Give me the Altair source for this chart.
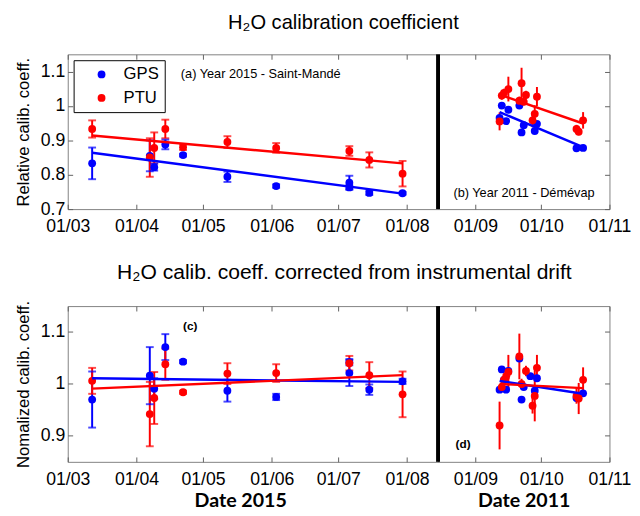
import altair as alt
import pandas as pd

series_names = ["GPS", "PTU"]
series_colors = ["#0000ff", "#ff0000"]

# ---------- (a) relative calibration coefficient, 2015 Saint-Mandé ----------
a_gps_dates = ["2015-03-12", "2015-04-07", "2015-04-09", "2015-04-14", "2015-04-22", "2015-05-12",
               "2015-06-03", "2015-07-06", "2015-07-06", "2015-07-15", "2015-07-30"]
a_gps_vals = [0.833, 0.855, 0.822, 0.888, 0.857, 0.794, 0.767, 0.777, 0.763, 0.747, 0.746]
a_gps_err = [0.046, 0.045, 0.010, 0.014, 0.004, 0.015, 0.005, 0.020, 0.006, 0.006, 0.004]
a_ptu_dates = ["2015-03-12", "2015-04-07", "2015-04-09", "2015-04-14", "2015-04-22", "2015-05-12",
               "2015-06-03", "2015-07-06", "2015-07-15", "2015-07-30"]
a_ptu_vals = [0.933, 0.850, 0.878, 0.933, 0.880, 0.895, 0.878, 0.869, 0.843, 0.803]
a_ptu_err = [0.025, 0.056, 0.045, 0.027, 0.008, 0.017, 0.014, 0.014, 0.022, 0.037]
a_fit_dates = ["2015-03-12", "2015-07-30"]
a_fit_gps = [0.864, 0.745]
a_fit_ptu = [0.914, 0.833]

# ---------- (b) relative calibration coefficient, 2011 Démévap ----------
b_gps_dates = ["2011-09-12", "2011-09-13", "2011-09-15", "2011-09-16", "2011-09-21", "2011-09-22",
               "2011-09-23", "2011-09-28", "2011-09-29", "2011-10-17", "2011-10-20"]
b_gps_vals = [0.965, 1.001, 0.956, 0.989, 1.001, 0.923, 0.944, 0.927, 0.948, 0.877, 0.878]
b_gps_err = [0, 0, 0, 0, 0, 0, 0, 0, 0, 0, 0]
b_ptu_dates = ["2011-09-12", "2011-09-13", "2011-09-14", "2011-09-16", "2011-09-21", "2011-09-22",
               "2011-09-23", "2011-09-24", "2011-09-27", "2011-09-28", "2011-09-29", "2011-10-17",
               "2011-10-18", "2011-10-20"]
b_ptu_vals = [0.955, 1.030, 1.038, 1.049, 1.015, 1.066, 1.012, 1.032, 0.958, 0.977, 1.027, 0.933, 0.925, 0.958]
b_ptu_err = [0.026, 0.012, 0.012, 0.036, 0.012, 0.045, 0.010, 0.012, 0.020, 0.025, 0.028, 0.012, 0.010, 0.024]
b_fit_dates = ["2011-09-12", "2011-10-20"]
b_fit_gps = [0.982, 0.880]
b_fit_ptu = [1.033, 0.949]

# ---------- (c) normalized calibration coefficient, 2015 ----------
c_gps_vals = [0.970, 1.016, 0.991, 1.071, 1.043, 0.987, 0.975, 1.021, 1.042, 0.989, 1.005]
c_gps_err = [0.054, 0.055, 0.020, 0.025, 0.003, 0.021, 0.006, 0.025, 0.006, 0.010, 0.005]
c_ptu_vals = [1.006, 0.942, 0.973, 1.038, 0.984, 1.020, 1.021, 1.040, 1.017, 0.980]
c_ptu_err = [0.025, 0.062, 0.050, 0.030, 0.003, 0.020, 0.017, 0.014, 0.025, 0.044]
c_fit_gps = [1.011, 1.004]
c_fit_ptu = [0.991, 1.017]

# ---------- (d) normalized calibration coefficient, 2011 ----------
d_gps_dates = ["2011-09-12", "2011-09-13", "2011-09-14", "2011-09-15", "2011-09-16", "2011-09-21",
               "2011-09-22", "2011-09-23", "2011-09-26", "2011-09-28", "2011-09-29", "2011-10-17",
               "2011-10-20"]
d_gps_vals = [0.989, 1.028, 1.008, 0.989, 1.025, 1.049, 0.970, 0.994, 1.015, 0.987, 1.011, 0.973, 0.982]
d_gps_err = [0, 0, 0, 0, 0, 0, 0, 0, 0, 0, 0, 0, 0]
d_ptu_dates = ["2011-09-12", "2011-09-13", "2011-09-14", "2011-09-15", "2011-09-16", "2011-09-21",
               "2011-09-22", "2011-09-24", "2011-09-27", "2011-09-28", "2011-09-29", "2011-10-17",
               "2011-10-18", "2011-10-20"]
d_ptu_vals = [0.920, 0.994, 1.008, 1.015, 1.023, 1.053, 1.000, 1.025, 0.958, 0.977, 1.031, 0.977, 0.972, 1.008]
d_ptu_err = [0.046, 0.010, 0.010, 0.010, 0.033, 0.044, 0.010, 0.010, 0.015, 0.049, 0.025, 0.015, 0.030, 0.024]
d_fit_dates = ["2011-09-12", "2011-10-20"]
d_fit_gps = [1.006, 0.981]
d_fit_ptu = [1.000, 0.992]

row1_title = "H₂O calibration coefficient"
row2_title = "H₂O calib. coeff. corrected from instrumental drift"
note_a = ("2015-04-21", 1.094, "(a) Year 2015 - Saint-Mandé")
note_b = ("2011-08-22", 0.748, "(b) Year 2011 - Démévap")
note_c = ("2015-04-22", 1.111, "(c)")
note_d = ("2011-08-23", 0.885, "(d)")
sep_2011 = "2011-08-15"


def pts_frame(gd, gv, ge, pd_, pv, pe):
    rows = []
    for d, v, e in zip(gd, gv, ge):
        rows.append({"date": d, "value": v, "lo": v - e, "hi": v + e, "series": "GPS"})
    for d, v, e in zip(pd_, pv, pe):
        rows.append({"date": d, "value": v, "lo": v - e, "hi": v + e, "series": "PTU"})
    return pd.DataFrame(rows)


def fit_frame(dates, g, p):
    return pd.DataFrame({"date": dates * 2, "value": g + p, "series": ["GPS"] * 2 + ["PTU"] * 2})


def dt(y, m, d):
    return alt.DateTime(year=y, month=m, date=d, utc=True)


FONT = "Liberation Sans"
LABEL_EXPR = "utcFormat(datum.value, '%d/%m')"


def panel(pts, fit, xdom, ydom, yticks, xticks, width, height, side, caps, note,
          bold_note=False, sep=None, legend=False, xtitle=None, ytitle=None, xtitle_x=None):
    xs = alt.Scale(type="utc", domain=xdom)
    ys = alt.Scale(domain=ydom, nice=False, zero=False)
    cscale = alt.Scale(domain=series_names, range=series_colors)
    stroke = alt.Stroke("series:N", scale=cscale, legend=None)
    base = alt.Chart(pts)
    layers = [base.mark_rule(strokeWidth=2).encode(
        x=alt.X("date:T", scale=xs, axis=None),
        y=alt.Y("lo:Q", scale=ys, axis=None), y2="hi:Q", stroke=stroke)]
    if caps:
        for f in ["lo", "hi"]:
            layers.append(base.mark_tick(size=8, thickness=2, orient="horizontal").encode(
                x=alt.X("date:T", scale=xs, axis=None),
                y=alt.Y(f + ":Q", scale=ys, axis=None),
                fill=alt.Fill("series:N", scale=cscale, legend=None)))
    xargs = dict(orient="bottom", values=xticks, labelExpr=LABEL_EXPR, labelFlush=False,
                 offset=-5, tickSize=5, domain=False, grid=False, labelPadding=9,
                 title=xtitle, titleFont="Lato", titleFontWeight="bold", titleFontSize=20,
                 titlePadding=3)
    if xtitle_x is not None:
        xargs["titleX"] = xtitle_x
    xaxis = alt.Axis(**xargs)
    if side == "left":
        yaxis = alt.Axis(orient="left", values=yticks, format="~g", offset=-5, tickSize=5,
                         domain=False, grid=False, labelPadding=3, title=ytitle, titlePadding=8)
    else:
        yaxis = alt.Axis(orient="right", values=yticks, labels=False, offset=-5, tickSize=5,
                         domain=False, grid=False, title=None)
    leg = None
    if legend:
        leg = alt.Legend(orient="top-left", offset=6, title=None, strokeColor="black",
                         fillColor="white", padding=6, symbolType="circle", symbolSize=64,
                         symbolOffset=14, labelOffset=14, labelFontSize=17, labelFont=FONT,
                         rowPadding=6, symbolStrokeWidth=0)
    layers.append(base.mark_circle(size=64, opacity=1).encode(
        x=alt.X("date:T", scale=xs, axis=xaxis),
        y=alt.Y("value:Q", scale=ys, axis=yaxis),
        color=alt.Color("series:N", scale=cscale, legend=leg)))
    layers.append(alt.Chart(fit).mark_line(strokeWidth=2.5).encode(
        x=alt.X("date:T", scale=xs,
                axis=alt.Axis(orient="top", values=xticks, labels=False, offset=-5, tickSize=5,
                              domain=False, grid=False, title=None)),
        y=alt.Y("value:Q", scale=ys, axis=None), stroke=stroke, detail="series:N"))
    ndf = pd.DataFrame({"date": [note[0]], "value": [note[1]], "label": [note[2]]})
    layers.append(alt.Chart(ndf).mark_text(align="left", baseline="middle", font=FONT,
                                           fontSize=12 if bold_note else 13,
                                           fontWeight="bold" if bold_note else "normal").encode(
        x=alt.X("date:T", scale=xs, axis=None), y=alt.Y("value:Q", scale=ys, axis=None),
        text="label:N"))
    if sep is not None:
        sdf = pd.DataFrame({"date": [sep]})
        layers.append(alt.Chart(sdf).mark_rule(strokeWidth=4, color="black").encode(
            x=alt.X("date:T", scale=xs, axis=None)))
    return alt.layer(*layers).resolve_axis(x="independent", y="independent").properties(
        width=width, height=height)


xdom15 = [dt(2015, 3, 1), dt(2015, 8, 15)]
xdom11 = [dt(2011, 8, 15), dt(2011, 11, 1)]
xt15 = [dt(2015, m, 1) for m in range(3, 9)]
xt11 = [dt(2011, m, 1) for m in range(9, 12)]

pa = panel(pts_frame(a_gps_dates, a_gps_vals, a_gps_err, a_ptu_dates, a_ptu_vals, a_ptu_err),
           fit_frame(a_fit_dates, a_fit_gps, a_fit_ptu), xdom15, [0.7, 1.15],
           [0.7, 0.8, 0.9, 1.0, 1.1], xt15, 378, 158, "left", True, note_a,
           legend=True, ytitle="Relative calib. coeff.")
pb = panel(pts_frame(b_gps_dates, b_gps_vals, b_gps_err, b_ptu_dates, b_ptu_vals, b_ptu_err),
           fit_frame(b_fit_dates, b_fit_gps, b_fit_ptu), xdom11, [0.7, 1.15],
           [0.7, 0.8, 0.9, 1.0, 1.1], xt11, 175, 158, "right", False, note_b, sep=sep_2011)
pc = panel(pts_frame(a_gps_dates, c_gps_vals, c_gps_err, a_ptu_dates, c_ptu_vals, c_ptu_err),
           fit_frame(a_fit_dates, c_fit_gps, c_fit_ptu), xdom15, [0.85, 1.15],
           [0.9, 1.0, 1.1], xt15, 378, 159, "left", True, note_c, bold_note=True,
           xtitle="Date 2015", ytitle="Nomalized calib. coeff.", xtitle_x=176)
pdd = panel(pts_frame(d_gps_dates, d_gps_vals, d_gps_err, d_ptu_dates, d_ptu_vals, d_ptu_err),
            fit_frame(d_fit_dates, d_fit_gps, d_fit_ptu), xdom11, [0.85, 1.15],
            [0.9, 1.0, 1.1], xt11, 175, 159, "right", False, note_d, bold_note=True,
            sep=sep_2011, xtitle="Date 2011")

row1 = alt.hconcat(pa, pb, spacing=0, bounds="flush").resolve_scale(
    x="independent", y="independent", color="independent").properties(
    title=alt.TitleParams(row1_title, anchor="middle", dy=-2, dx=21, fontSize=20.5))
row2 = alt.hconcat(pc, pdd, spacing=0, bounds="flush").resolve_scale(
    x="independent", y="independent", color="independent").properties(
    title=alt.TitleParams(row2_title, anchor="middle", dx=22, fontSize=21.5))

chart = alt.vconcat(row1, row2, spacing=26).resolve_scale(color="independent").configure(
    font=FONT, padding={"left": 6, "top": 0, "right": 0, "bottom": 0}
).configure_view(stroke="#808080", strokeWidth=1).configure_axis(
    labelFont=FONT, labelFontSize=18, labelColor="black", tickColor="#606060",
    titleFont=FONT, titleFontSize=17, titleFontWeight="normal", titleColor="black"
).configure_title(font=FONT, fontSize=20, fontWeight="normal", anchor="middle", color="black",
                  offset=17)

chart.save("out.html", embed_options={"renderer": "svg", "actions": False})
